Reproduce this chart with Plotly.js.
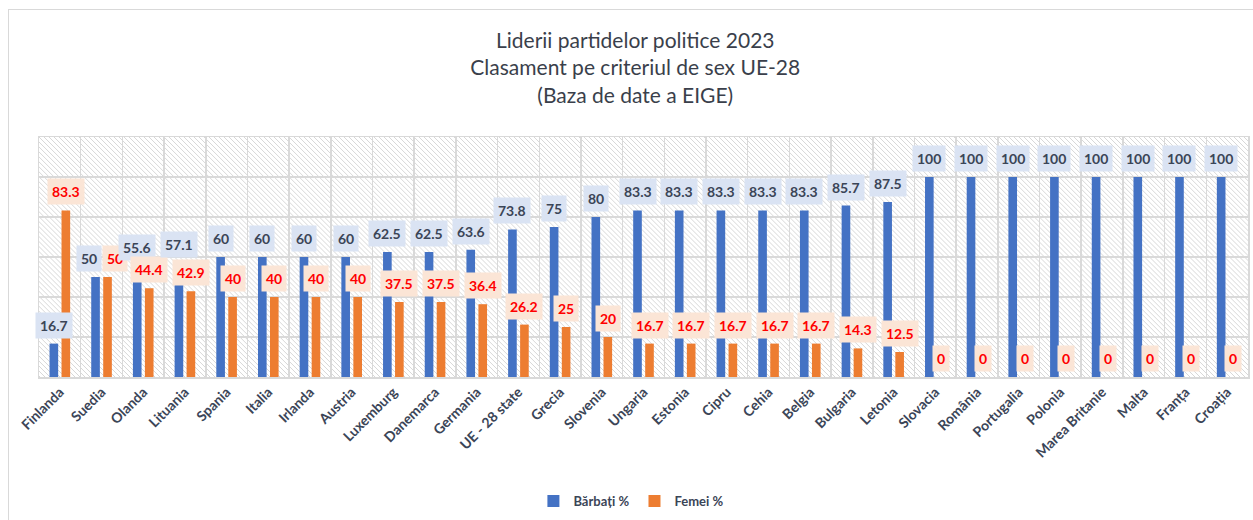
<!DOCTYPE html>
<html>
<head>
<meta charset="utf-8">
<script src="https://cdn.plot.ly/plotly-3.0.1.min.js"></script>
<style>
  html, body { margin: 0; padding: 0; background: #fff; }
  #wrap { position: relative; width: 1253px; height: 520px; overflow: hidden; }
  #chart { position: absolute; left: 0; top: 0; width: 1253px; height: 520px; }
  #frame { position: absolute; left: 8px; top: 9px; width: 1300px; height: 600px;
           border-left: 1px solid #d9d9d9; border-top: 1px solid #d9d9d9; pointer-events: none; }
</style>
</head>
<body>
<div id="wrap"><div id="chart"></div><div id="frame"></div></div>
<script>
const categories = ['Finlanda','Suedia','Olanda','Lituania','Spania','Italia','Irlanda','Austria',
  'Luxemburg','Danemarca','Germania','UE - 28 state','Grecia','Slovenia','Ungaria','Estonia',
  'Cipru','Cehia','Belgia','Bulgaria','Letonia','Slovacia','România','Portugalia','Polonia',
  'Marea Britanie','Malta','Franța','Croația'];
const barbati = [16.7, 50, 55.6, 57.1, 60, 60, 60, 60, 62.5, 62.5, 63.6, 73.8, 75, 80,
  83.3, 83.3, 83.3, 83.3, 83.3, 85.7, 87.5, 100, 100, 100, 100, 100, 100, 100, 100];
const femei = [83.3, 50, 44.4, 42.9, 40, 40, 40, 40, 37.5, 37.5, 36.4, 26.2, 25, 20,
  16.7, 16.7, 16.7, 16.7, 16.7, 14.3, 12.5, 0, 0, 0, 0, 0, 0, 0, 0];
const seriesNames = ['Bărbați %', 'Femei %'];
const titleLines = ['Liderii partidelor politice 2023', 'Clasament pe criteriul de sex UE-28', '(Baza de date a EIGE)'];

const W = 1253, H = 520;
const M = { l: 39, r: 5, t: 137, b: 142 };
const PW = W - M.l - M.r, PH = H - M.t - M.b;

const FONT = 'Lato, "Open Sans", sans-serif';
const DARK = '#3b4557';
const BLUE = '#4472c4', ORANGE = '#ed7d31';

// hatched plot background
const hatch = "<svg xmlns='http://www.w3.org/2000/svg' width='" + PW + "' height='" + PH + "' viewBox='0 0 " + PW + " " + PH + "'>" +
  "<defs><pattern id='p' width='5' height='5' patternUnits='userSpaceOnUse'>" +
  "<path d='M0,0 L5,5 M-1,4 L1,6 M4,-1 L6,1' stroke='#d2d2d2' stroke-width='0.9'/></pattern></defs>" +
  "<rect width='100%' height='100%' fill='#ffffff'/><rect width='100%' height='100%' fill='url(#p)'/></svg>";
const hatchURI = 'data:image/svg+xml;charset=utf-8,' + encodeURIComponent(hatch);

const traces = [
  { type: 'bar', name: seriesNames[0], x: categories, y: barbati, marker: { color: BLUE }, hoverinfo: 'skip' },
  { type: 'bar', name: seriesNames[1], x: categories, y: femei, marker: { color: ORANGE }, hoverinfo: 'skip' }
];

const annotations = [];
categories.forEach((c, i) => {
  const close = Math.abs(barbati[i] - femei[i]) < 8;
  annotations.push({
    x: c, y: barbati[i], xref: 'x', yref: 'y', text: String(barbati[i]), showarrow: false,
    xanchor: 'center', yanchor: 'bottom', xshift: close ? -13 : -6, yshift: 5,
    bgcolor: '#dae3f3', borderpad: 4,
    font: { family: FONT, size: 14, weight: 700, color: DARK }
  });
  annotations.push({
    x: c, y: femei[i], xref: 'x', yref: 'y', text: String(femei[i]), showarrow: false,
    xanchor: 'center', yanchor: 'bottom', xshift: close ? 13 : 6, yshift: 5,
    bgcolor: '#fbe5d6', borderpad: 4,
    font: { family: FONT, size: 14, weight: 700, color: '#ff0000' }
  });
});

const layout = {
  width: W, height: H,
  margin: M,
  paper_bgcolor: '#ffffff',
  plot_bgcolor: 'rgba(0,0,0,0)',
  font: { family: FONT, color: DARK },
  title: {
    text: titleLines.join('<br>'),
    font: { family: FONT, size: 21, color: '#3a3f4b' },
    xref: 'container', x: 0.507, xanchor: 'center',
    yref: 'container', y: 1 - 48 / H, yanchor: 'middle'
  },
  barmode: 'group',
  bargap: 0.425,
  bargroupgap: 0.28,
  showlegend: true,
  legend: {
    orientation: 'h', x: 0.49, xanchor: 'center', y: -(501 - (H - M.b)) / PH, yanchor: 'middle',
    font: { family: FONT, size: 13, weight: 700, color: DARK },
    bgcolor: 'rgba(0,0,0,0)'
  },
  xaxis: {
    type: 'category', range: [-0.5, categories.length - 0.5],
    tickson: 'boundaries', showgrid: true, gridcolor: '#d9d9d9', gridwidth: 1.5,
    showline: true, mirror: true, linecolor: '#d9d9d9', linewidth: 1.5,
    ticks: '', tickangle: -45, automargin: false,
    tickfont: { family: FONT, size: 14, weight: 700, color: DARK },
    fixedrange: true
  },
  yaxis: {
    range: [0, 120], dtick: 20, showticklabels: false,
    showgrid: true, gridcolor: '#d9d9d9', gridwidth: 1.5,
    showline: true, mirror: true, linecolor: '#d9d9d9', linewidth: 1.5,
    zeroline: false, ticks: '', automargin: false, fixedrange: true
  },
  images: [{
    source: hatchURI, xref: 'paper', yref: 'paper', x: 0, y: 1, sizex: 1, sizey: 1,
    xanchor: 'left', yanchor: 'top', sizing: 'stretch', layer: 'below'
  }],
  annotations: annotations
};

Plotly.newPlot('chart', traces, layout, { displayModeBar: false, staticPlot: true });
</script>
</body>
</html>
